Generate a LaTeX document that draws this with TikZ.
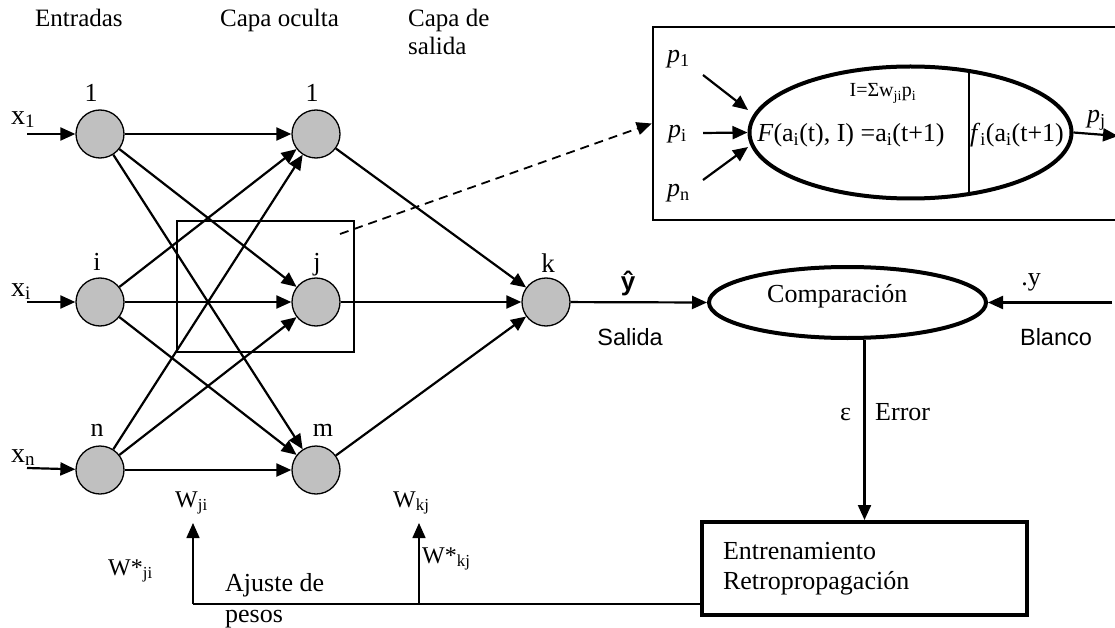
\documentclass[tikz,border=0pt]{standalone}
\usepackage{fontspec}
\setmainfont{Liberation Serif}
\setsansfont{Liberation Sans}
\usetikzlibrary{arrows.meta,calc,shapes.geometric}
\definecolor{neurongray}{RGB}{192,192,192}
\newcommand\fsz[1]{\fontsize{#1}{#1}\selectfont}
\newcommand\sbx[2]{\raisebox{-3pt}{\fsz{#1}#2}}
\tikzset{
  neuron/.style={circle,draw,fill=neurongray,line width=1.3pt,minimum size=48pt,inner sep=0pt},
  conn/.style={line width=2.2pt,-{Triangle[length=15pt,width=13pt]}},
  thinconn/.style={line width=1.6pt,-{Triangle[length=15pt,width=13pt]}},
  txt/.style={inner sep=0pt,anchor=base west},
  ctxt/.style={inner sep=0pt,anchor=base},
}
\begin{document}
\begin{tikzpicture}[x=1pt,y=-1pt]
\useasboundingbox (0,0) rectangle (1115,628);

% headers
\node[txt] (hIn) at (35,27) {\fsz{25}Entradas};
\node[txt] (hHid) at (220,27) {\fsz{25}Capa oculta};
\node[txt] (hOut1) at (408,27) {\fsz{25}Capa de};
\node[txt] (hOut2) at (408,55) {\fsz{25}salida};

% neurons
\node[neuron] (in1) at (100,134) {};
\node[neuron] (ini) at (100,302) {};
\node[neuron] (inn) at (100,470) {};
\node[neuron] (h1) at (316,134) {};
\node[neuron] (hj) at (316,302) {};
\node[neuron] (hm) at (316,470) {};
\node[neuron] (k) at (546,302) {};

% neuron labels
\node[ctxt] (l1) at (91,102) {\fsz{26}1};
\node[ctxt] (li) at (97,270) {\fsz{26}i};
\node[ctxt] (ln) at (97,436) {\fsz{26}n};
\node[ctxt] (lh1) at (312,102) {\fsz{26}1};
\node[ctxt] (lj) at (317,270) {\fsz{26}j};
\node[ctxt] (lm) at (323,436) {\fsz{26}m};
\node[ctxt] (lk) at (548,272) {\fsz{27}k};

% input labels and arrows
\node[txt] (x1) at (11,125) {\fsz{28}x\sbx{19}{1}};
\node[txt] (xi) at (11,296) {\fsz{28}x\sbx{19}{i}};
\node[txt] (xn) at (11,462) {\fsz{28}x\sbx{19}{n}};
\coordinate (x1s) at (27,134);
\coordinate (xis) at (27,302);
\coordinate (xns) at (27,468);
\draw[conn] (x1s) -- (in1);
\draw[conn] (xis) -- (ini);
\draw[conn] (xns) -- (inn);

% input -> hidden
\foreach \a in {in1,ini,inn}{
  \foreach \b in {h1,hj,hm}{
    \draw[conn] (\a) -- (\b);
  }
}
% hidden -> output
\draw[conn] (h1) -- (k);
\draw[conn] (hj) -- (k);
\draw[conn] (hm) -- (k);

% box around j
\node[draw,line width=1.3pt,minimum width=177pt,minimum height=131pt,inner sep=0pt] (jbox) at (265.5,286.5) {};

% zoomed neuron box
\node[draw,line width=2.6pt,minimum width=472pt,minimum height=193pt,inner sep=0pt] (zbox) at (889,123.5) {};
\coordinate (dstart) at (340,234);
\draw[line width=1.8pt,dash pattern=on 9pt off 6pt,-{Triangle[length=15pt,width=13pt]}] (dstart) -- (zbox.west);

\node[ellipse,draw,line width=4pt,minimum width=322pt,minimum height=132pt,inner sep=0pt] (bigell) at (910.5,132.5) {};
\draw[line width=1.5pt] ($(bigell.center)+(58.5,-62)$) -- ($(bigell.center)+(58.5,62)$);
\node[ctxt] (Iexpr) at (883,97) {\fsz{20}I=Σw\textsubscript{ji}p\textsubscript{i}};
\node[ctxt] (Fexpr) at (851,142) {\fsz{26}\textit{F}(a\textsubscript{i}(t), I) =a\textsubscript{i}(t+1)};
\node[ctxt] (fexpr) at (1017,142) {\fsz{26}\textit{f}\textsubscript{i}(a\textsubscript{i}(t+1)};

\node[txt] (p1) at (667,63) {\fsz{26}\textit{p}\textsubscript{1}};
\node[txt] (pi) at (668,138) {\fsz{26}\textit{p}\textsubscript{i}};
\node[txt] (pn) at (667,197) {\fsz{26}\textit{p}\textsubscript{n}};
\node[txt] (pj) at (1087,123) {\fsz{26}\textit{p}\textsubscript{j}};
\coordinate (p1s) at (703,75);
\coordinate (p1t) at (748,110);
\coordinate (pis) at (703,133);
\coordinate (pns) at (703,180);
\coordinate (pnt) at (748,147);
\coordinate (pjt) at (1118,136);
\draw[conn] (p1s) -- (p1t);
\draw[conn] (pis) -- (bigell.west);
\draw[conn] (pns) -- (pnt);
\draw[conn] (bigell.east) -- (pjt);

% comparison
\node[ellipse,draw,line width=4pt,minimum width=277pt,minimum height=71pt,inner sep=0pt] (cmp) at (847.5,302.5) {};
\node[txt] (cmptxt) at (767,302) {\fsz{26}Comparación};
\draw[conn] (k) -- (cmp.west);
\node (yhat) at (628,283) {\fsz{26}\sffamily\bfseries ŷ};
\node (salida) at (630,337) {\fsz{23.5}\sffamily Salida};
\coordinate (tgt) at (1112,302.5);
\draw[conn] (tgt) -- (cmp.east);
\node (ydot) at (1031,282) {\fsz{26}.y};
\node (blanco) at (1056,337) {\fsz{23.5}\sffamily Blanco};

% training box
\node[draw,line width=4pt,minimum width=325pt,minimum height=93pt,inner xsep=21pt,text width=283pt,align=left,font=\fontsize{26}{30}\selectfont] (train) at (864.5,568.5) {Entrenamiento\\Retropropagación};
\draw[conn] (cmp.south -| train.north) -- (train.north);
\node[txt] (eps) at (840,420) {\fsz{26}ε};
\node[txt] (err) at (875,420) {\fsz{26}Error};

% feedback
\coordinate (fbL) at (193,604);
\coordinate (fbM) at (419,604);
\coordinate (tjL) at (193,523);
\coordinate (tjM) at (419,523);
\draw[line width=1.5pt] (train.west |- fbL) -- (fbL);
\draw[thinconn] (fbL) -- (tjL);
\draw[thinconn] (fbM) -- (tjM);
\node[txt] (wji) at (175,507) {\fsz{24}W\textsubscript{ji}};
\node[txt] (wkj) at (393,507) {\fsz{24}W\textsubscript{kj}};
\node[txt] (wsji) at (108,575) {\fsz{24}W*\textsubscript{ji}};
\node[txt] (wskj) at (422,563) {\fsz{24}W*\textsubscript{kj}};
\node[txt] (aj1) at (225,591) {\fsz{26}Ajuste de};
\node[txt] (aj2) at (225,622) {\fsz{26}pesos};
\end{tikzpicture}
\end{document}
